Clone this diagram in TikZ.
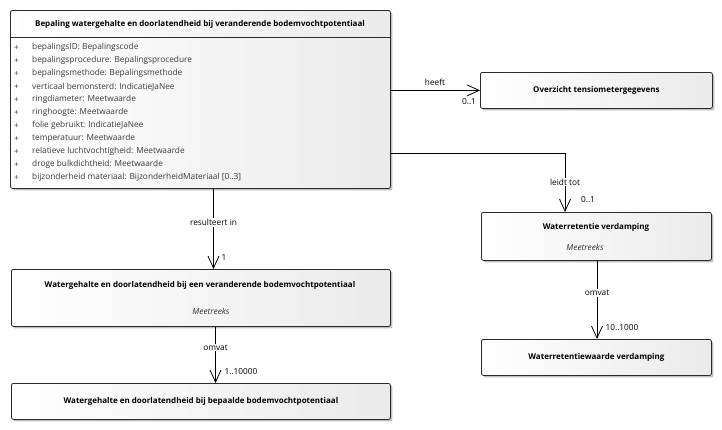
\documentclass[tikz,border=0pt]{standalone}
\usepackage{fontspec}
\setmainfont{Open Sans}
\usetikzlibrary{arrows.meta,shadows,calc}
\definecolor{attr}{HTML}{3A3A3A}
\definecolor{edge}{HTML}{2B2B2B}
\begin{document}
\begin{tikzpicture}[x=1pt,y=-1pt,
  box/.style={draw=edge, rounded corners=2pt, line width=0.8pt, left color=white, right color=black!8,
    drop shadow={shadow xshift=2pt, shadow yshift=-2pt, opacity=0.25, fill=black},
    inner sep=0pt, anchor=north west},
  ttl/.style={font=\fontsize{8}{9}\selectfont\bfseries, text=black, inner sep=0pt},
  itl/.style={font=\fontsize{8.3}{9}\selectfont\itshape, text=black!80, inner sep=0pt},
  attrtxt/.style={font=\fontsize{8.3}{9}\selectfont, text=attr, anchor=west, inner sep=0pt},
  lbl/.style={font=\fontsize{8.3}{9}\selectfont, text=black, inner sep=1pt},
  lblw/.style={lbl, fill=white},
  conn/.style={draw=black, line width=0.8pt},
  arr/.style={conn, -{Straight Barb[length=12pt,width=11pt,line width=0.8pt]}}
]
\useasboundingbox (0,0) rectangle (722,429);
% boxes
\node[box, minimum width=380pt, minimum height=178pt] (main) at (10,10) {};
\node[box, minimum width=232pt, minimum height=36pt] (over) at (480,72) {};
\node[box, minimum width=230pt, minimum height=48pt] (ret) at (481,212) {};
\node[box, minimum width=230pt, minimum height=36pt] (retw) at (481,339) {};
\node[box, minimum width=379pt, minimum height=57pt] (meet) at (11,269) {};
\node[box, minimum width=379pt, minimum height=36pt] (bep) at (11,383) {};
% main box content
\draw[edge, line width=0.8pt] (main.west |- 0,37) -- (main.east |- 0,37);
\node[ttl] (t1) at (200,24) {Bepaling watergehalte en doorlatendheid bij veranderende bodemvochtpotentiaal};
\foreach \i/\t in {0/{bepalingsID: Bepalingscode},1/{bepalingsprocedure: Bepalingsprocedure},2/{bepalingsmethode: Bepalingsmethode},3/{verticaal bemonsterd: IndicatieJaNee},4/{ringdiameter: Meetwaarde},5/{ringhoogte: Meetwaarde},6/{folie gebruikt: IndicatieJaNee},7/{temperatuur: Meetwaarde},8/{relatieve luchtvochtigheid: Meetwaarde},9/{droge bulkdichtheid: Meetwaarde},10/{bijzonderheid materiaal: BijzonderheidMateriaal [0..3]}}{
  \node[attrtxt] (p\i) at (14,47.7+13*\i) {+};
  \node[attrtxt] (a\i) at (32,47.7+13*\i) {\t};
}
% other box texts
\node[ttl] (t2) at (over.center) {Overzicht tensiometergegevens};
\node[ttl] (t3) at (596,227) {Waterretentie verdamping};
\node[itl] (s3) at (585,247) {Meetreeks};
\node[ttl] (t4) at (retw.center) {Waterretentiewaarde verdamping};
\node[ttl] (t5) at (200,285) {Watergehalte en doorlatendheid bij een veranderende bodemvochtpotentiaal};
\node[itl] (s5) at (211,311) {Meetreeks};
\node[ttl] (t6) at (bep.center) {Watergehalte en doorlatendheid bij bepaalde bodemvochtpotentiaal};
% connector coordinates
\coordinate (c1) at (565,153);
\coordinate (c2) at (213.5,0);
\coordinate (c3) at (215.5,0);
\coordinate (c4) at (597,0);
% connectors
\draw[arr] (main.east |- over.west) -- (over.west);
\draw[arr] (main.east |- c1) -- (c1) -- (ret.north -| c1);
\draw[arr] (main.south -| c2) -- (meet.north -| c2);
\draw[arr] (meet.south -| c3) -- (bep.north -| c3);
\draw[arr] (ret.south -| c4) -- (retw.north -| c4);
% labels
\node[lbl] (l1) at (435,82.5) {heeft};
\node[lbl] (m1) at (469,102) {0..1};
\node[lblw] (l2) at (565,182) {leidt tot};
\node[lbl] (m2) at (588,200) {0..1};
\node[lblw] (l3) at (213.5,222.5) {resulteert in};
\node[lbl] (m3) at (224,258) {1};
\node[lblw] (l4) at (215.5,347.5) {omvat};
\node[lbl] (m4) at (241,372) {1..10000};
\node[lblw] (l5) at (597,293) {omvat};
\node[lbl] (m5) at (622,328) {10..1000};
\end{tikzpicture}
\end{document}
